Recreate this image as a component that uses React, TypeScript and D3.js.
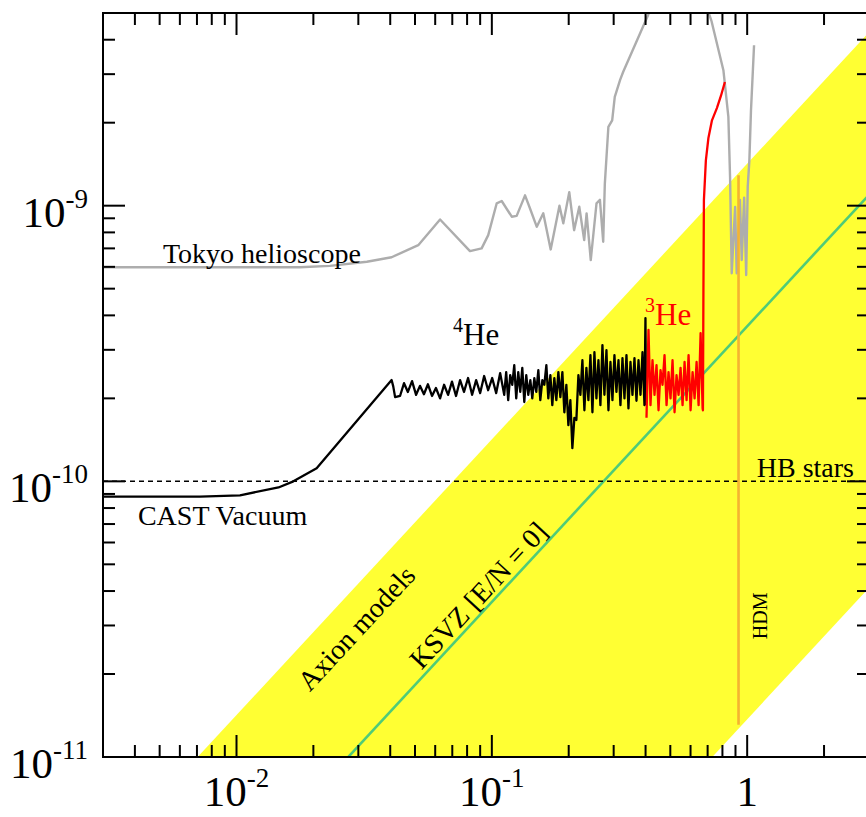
import * as d3 from 'd3';

const WIDTH = 866;
const HEIGHT = 817;
const PLOT = { left: 103, right: 869, top: 13, bottom: 757 };
const FONT = '"Liberation Serif", "Times New Roman", Times, serif';

// axion mass m_a [eV]
const massDomain = [0.003, 3];
// photon coupling g_ag in units of 1e-10 GeV^-1
const couplingDomain = [0.1, 50];

const xMajorTicks = [0.01, 0.1, 1];
const xTickLabels = [['10', '-2'], ['10', '-1'], ['1', '']];
const yMajorTicks = [0.1, 1, 10];
const yTickLabels = [['10', '-11'], ['10', '-10'], ['10', '-9']];

// [m_a, g] pairs
const tokyoHelioscope = [
  [0.003, 5.98], [0.0177, 5.98], [0.0232, 6.05], [0.0324, 6.26], [0.0405, 6.5],
  [0.0515, 7.19], [0.0627, 8.91], [0.0821, 6.84], [0.0912, 7.0], [0.0968, 7.82],
  [0.1045, 10.2], [0.1093, 10.4], [0.1197, 9.12], [0.1251, 9.18], [0.1349, 10.9],
  [0.1411, 9.77], [0.15, 8.38], [0.159, 9.38], [0.17, 6.94], [0.184, 10.0],
  [0.1905, 8.63], [0.201, 11.2], [0.21, 8.15], [0.22, 9.91], [0.23, 7.5],
  [0.235, 9.38], [0.244, 6.35], [0.257, 10.2], [0.265, 10.5], [0.273, 7.4],
  [0.277, 12.0], [0.286, 19.3], [0.296, 20.4], [0.303, 24.8], [0.318, 28.6],
  [0.327, 30.6], [0.409, 49.1], [0.55, 100], [0.726, 46.5], [0.807, 31.0],
  [0.844, 21.0], [0.857, 12.7], [0.87, 5.69], [0.897, 9.89], [0.91, 5.69],
  [0.937, 10.5], [0.952, 6.35], [0.973, 10.7], [0.991, 5.6], [1.005, 11.7],
  [1.02, 14.6], [1.035, 22.2], [1.05, 29.4], [1.064, 38.2],
];

const cast4He = [
  [0.003, 0.88], [0.00719, 0.88], [0.01032, 0.89], [0.0146, 0.95], [0.0167, 1.0],
  [0.0206, 1.115], [0.0405, 2.33], [0.0411, 2.21], [0.0418, 2.02], [0.0437, 2.04],
  [0.0453, 2.27], [0.0469, 2.11], [0.0487, 2.31], [0.0505, 2.06], [0.0523, 2.22],
  [0.0542, 2.07], [0.0562, 2.25], [0.0583, 2.04], [0.0604, 2.18], [0.0627, 2.0],
  [0.065, 2.24], [0.0674, 2.06], [0.0698, 2.3], [0.0724, 2.04], [0.0751, 2.33],
  [0.0778, 2.11], [0.0807, 2.37], [0.0837, 2.06], [0.0868, 2.33], [0.09, 2.09],
  [0.0933, 2.41], [0.0967, 2.14], [0.1003, 2.37], [0.104, 2.09], [0.1078, 2.47],
  [0.1118, 2.06], [0.1138, 2.49], [0.1159, 1.97], [0.118, 2.43], [0.1202, 2.24],
  [0.1224, 2.64], [0.1246, 2.0], [0.1269, 2.49], [0.1292, 2.11], [0.1316, 2.58],
  [0.134, 1.94], [0.1364, 2.43], [0.1389, 2.06], [0.1415, 2.33], [0.144, 2.0],
  [0.1467, 2.37], [0.1493, 2.11], [0.1521, 2.53], [0.1548, 1.97], [0.1577, 2.33],
  [0.1605, 2.24], [0.1635, 2.64], [0.1664, 2.0], [0.1695, 2.43], [0.1725, 1.89],
  [0.1757, 2.37], [0.1789, 1.97], [0.1822, 2.49], [0.1855, 2.02], [0.1889, 2.49],
  [0.1923, 1.78], [0.1958, 2.24], [0.1994, 1.6], [0.203, 1.97], [0.2067, 1.32],
  [0.2105, 1.7], [0.2143, 1.67], [0.2183, 2.43], [0.2222, 2.06], [0.2263, 2.75],
  [0.2304, 1.81], [0.2346, 2.58], [0.2389, 1.97], [0.2433, 2.87], [0.2477, 1.78],
  [0.2522, 2.94], [0.2568, 2.0], [0.2615, 2.75], [0.2662, 1.89], [0.2711, 3.12],
  [0.276, 2.06], [0.2811, 2.99], [0.2862, 1.81], [0.2914, 2.71], [0.2967, 1.97],
  [0.3021, 2.87], [0.3076, 2.11], [0.3133, 2.75], [0.3189, 1.89], [0.3248, 2.8],
  [0.3307, 2.0], [0.3367, 2.87], [0.3428, 1.84], [0.3491, 2.71], [0.3554, 2.06],
  [0.3619, 2.8], [0.3685, 1.96], [0.3753, 2.75], [0.3821, 2.06], [0.3891, 2.94],
  [0.3961, 1.89], [0.3996, 3.91], [0.4014, 1.89],
];

const cast3He = [
  [0.4034, 1.7], [0.4107, 3.54], [0.4182, 1.89], [0.4258, 2.75], [0.4336, 2.06],
  [0.4415, 2.64], [0.4496, 1.81], [0.4577, 2.53], [0.4661, 2.24], [0.4746, 2.87],
  [0.4833, 1.89], [0.492, 2.49], [0.501, 2.0], [0.5101, 2.75], [0.5195, 1.78],
  [0.5289, 2.43], [0.5386, 2.06], [0.5484, 2.58], [0.5584, 1.89], [0.5686, 2.71],
  [0.579, 1.97], [0.5895, 2.87], [0.6003, 1.81], [0.6112, 2.49], [0.6224, 2.0],
  [0.6337, 2.71], [0.6453, 1.89], [0.657, 3.45], [0.669, 1.84], [0.671, 1.81],
  [0.674, 4.94], [0.677, 10.5], [0.689, 14.6], [0.705, 17.6], [0.728, 20.4],
  [0.761, 22.6], [0.789, 25.0], [0.818, 28.1],
];

const hbStarsLimit = 1;
const axionBandUpper = 14.2; // g / m_a
const axionBandLower = 0.137;
const ksvzRatio = 3.65;
const hdmMass = 0.925;
const hdmCoupling = [0.131, 12.9];

function Sup({ x, y, base, sup, anchor, size = 43, supSize = 27 }) {
  return (
    <text x={x} y={y} textAnchor={anchor} fontSize={size} fontFamily={FONT} fill="#000">
      {base}
      {sup && <tspan fontSize={supSize} dy={-19}>{sup}</tspan>}
    </text>
  );
}

export default function App() {
  const x = d3.scaleLog().domain(massDomain).range([PLOT.left, PLOT.right]);
  const y = d3.scaleLog().domain(couplingDomain).range([PLOT.bottom, PLOT.top]);
  const line = d3.line<number[]>().x(d => x(d[0])).y(d => y(d[1]));

  const mEdges = [1e-4, 10];
  const band = [
    ...mEdges.map(m => [m, axionBandUpper * m]),
    ...mEdges.slice().reverse().map(m => [m, axionBandLower * m]),
  ];
  const ksvz = mEdges.map(m => [m, ksvzRatio * m]);

  const isMajor = v => Math.abs(Math.log10(v) - Math.round(Math.log10(v))) < 1e-6;
  const xTicks = x.ticks();
  const yTicks = y.ticks();

  const angle = -Math.atan((y(1) - y(10)) / (x(1) - x(0.1))) * 180 / Math.PI;

  return (
    <svg width={WIDTH} height={HEIGHT} style={{ position: 'absolute', left: 0, top: 0, background: '#fff' }}>
      <defs>
        <clipPath id="plot-clip">
          <rect x={PLOT.left} y={PLOT.top} width={PLOT.right - PLOT.left} height={PLOT.bottom - PLOT.top} />
        </clipPath>
      </defs>
      <rect width={WIDTH} height={HEIGHT} fill="#fff" />

      <g clipPath="url(#plot-clip)">
        <path d={line(band) + 'Z'} fill="#ffff33" />
        <path d={line(ksvz)} fill="none" stroke="#4fcb78" strokeWidth={2.6} />
        <line
          x1={x(massDomain[0])} x2={x(massDomain[1])}
          y1={y(hbStarsLimit)} y2={y(hbStarsLimit)}
          stroke="#000" strokeWidth={1.5} strokeDasharray="5,4"
        />
        <path d={line(tokyoHelioscope)} fill="none" stroke="#adadad" strokeWidth={2.4} strokeLinejoin="round" />
        <line
          x1={x(hdmMass)} x2={x(hdmMass)}
          y1={y(hdmCoupling[0])} y2={y(hdmCoupling[1])}
          stroke="#f5b332" strokeWidth={2.6}
        />
        <path d={line(cast4He)} fill="none" stroke="#000" strokeWidth={2.3} strokeLinejoin="round" />
        <path d={line(cast3He)} fill="none" stroke="#ff0000" strokeWidth={2.3} strokeLinejoin="round" />
      </g>

      {/* frame */}
      <rect
        x={PLOT.left} y={PLOT.top}
        width={PLOT.right - PLOT.left} height={PLOT.bottom - PLOT.top}
        fill="none" stroke="#000" strokeWidth={2}
      />

      {/* ticks */}
      {xTicks.map((t, i) => {
        const len = isMajor(t) ? 22 : 12;
        return (
          <g key={'xt' + i} stroke="#000" strokeWidth={2}>
            <line x1={x(t)} x2={x(t)} y1={PLOT.bottom} y2={PLOT.bottom - len} />
            <line x1={x(t)} x2={x(t)} y1={PLOT.top} y2={PLOT.top + len} />
          </g>
        );
      })}
      {yTicks.map((t, i) => {
        const len = isMajor(t) ? 22 : 12;
        return (
          <g key={'yt' + i} stroke="#000" strokeWidth={2}>
            <line x1={PLOT.left} x2={PLOT.left + len} y1={y(t)} y2={y(t)} />
            <line x1={PLOT.right} x2={PLOT.right - len} y1={y(t)} y2={y(t)} />
          </g>
        );
      })}

      {/* tick labels */}
      {xMajorTicks.map((t, i) => (
        <Sup key={'xl' + i} x={x(t)} y={806} base={xTickLabels[i][0]} sup={xTickLabels[i][1]} anchor="middle" />
      ))}
      {yMajorTicks.map((t, i) => (
        <Sup key={'yl' + i} x={88} y={y(t) + 21} base={yTickLabels[i][0]} sup={yTickLabels[i][1]} anchor="end" />
      ))}

      {/* annotations */}
      <g fontFamily={FONT} fontSize={28} fill="#000">
        <text x={x(0.00515)} y={y(6.19)}>Tokyo helioscope</text>
        <text x={x(0.00411)} y={y(0.694)}>CAST Vacuum</text>
        <text x={x(0.0705)} y={y(3.12)}>
          <tspan fontSize={20} dy={-13}>4</tspan>
          <tspan fontSize={31} dy={13}>He</tspan>
        </text>
        <text x={x(0.398)} y={y(3.69)} fill="#ff0000">
          <tspan fontSize={20} dy={-13}>3</tspan>
          <tspan fontSize={31} dy={13}>He</tspan>
        </text>
        <text x={x(2.62)} y={y(1.036)} textAnchor="end">HB stars</text>
        <text
          transform={`translate(${x(1.12)},${y(0.325)}) rotate(-90)`}
          textAnchor="middle" dy="0.35em" fontSize={20}
        >HDM</text>
        <text
          transform={`translate(${x(0.0294)},${y(0.294)}) rotate(${angle})`}
          textAnchor="middle" dy="0.35em"
        >Axion models</text>
        <text
          transform={`translate(${x(0.0883)},${y(0.387)}) rotate(${angle})`}
          textAnchor="middle" dy="0.35em"
        >KSVZ [E/N = 0]</text>
      </g>
    </svg>
  );
}
